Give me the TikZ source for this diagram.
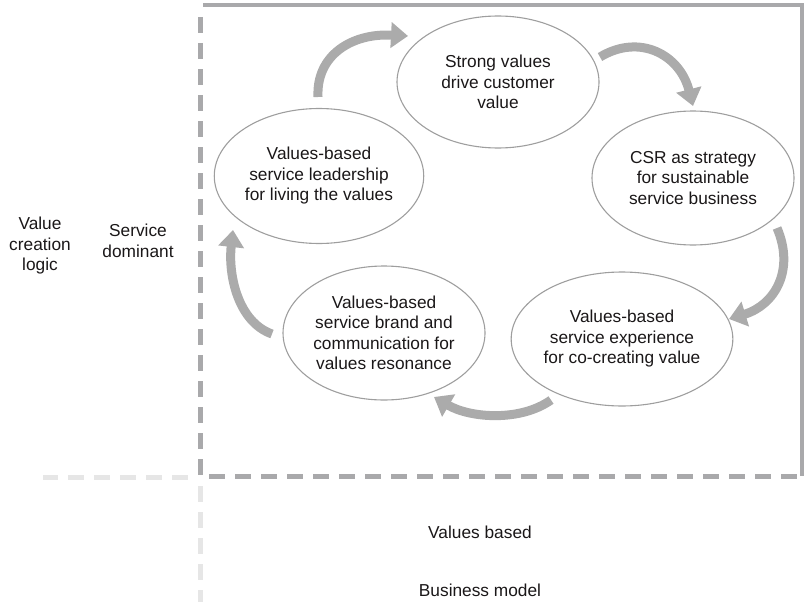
\documentclass[tikz,border=0pt]{standalone}
\usepackage{fontspec}
\setmainfont{Liberation Sans}
\usetikzlibrary{arrows.meta,shapes.geometric}
\definecolor{boxgray}{HTML}{A9A9AB}
\definecolor{lightgray}{HTML}{E6E6E6}
\definecolor{ellgray}{HTML}{9E9E9E}
\definecolor{arrgray}{HTML}{ABABAB}
\definecolor{txt}{HTML}{1A1718}
\begin{document}
\begin{tikzpicture}[x=1pt,y=-1pt,
  every node/.style={text=txt,font=\fontsize{17.3}{20.5}\selectfont,align=center},
  bubble/.style={ellipse,draw=ellgray,line width=1.1pt,inner sep=0pt,minimum width=#1},
  bubble/.default=202pt,
  solidedge/.style={draw=boxgray,line width=4.5pt},
  darkdash/.style={draw=boxgray,line width=5pt,dash pattern=on 16pt off 10pt},
  lightdash/.style={draw=lightgray,line width=5pt,dash pattern=on 16pt off 10pt},
  bigarrow/.style={draw=arrgray,line width=9pt,-{Triangle[width=25pt,length=17pt]}}
]
\useasboundingbox (0,0) rectangle (805,602);
% frame
\draw[solidedge] (203,5) -- (802,5) -- (802,476);
\draw[darkdash] (200,17) -- (200,476) -- (800,476);
\draw[lightdash] (188,477) -- (43,477);
\draw[lightdash] (200,486) -- (200,602);
% bubbles
\node[bubble,minimum height=132pt] (e1) at (498,82) {Strong values\\drive customer\\value};
\node[bubble,minimum height=134pt] (e2) at (693,178) {CSR as strategy\\for sustainable\\service business};
\node[bubble=204pt,minimum height=134pt] (e3) at (622,339) {Values-based\\service experience\\for co-creating value};
\node[bubble,minimum height=134pt] (e4) at (384,333) {Values-based\\service brand and\\communication for\\values resonance};
\node[bubble,minimum height=135pt] (e5) at (319,176) {Values-based\\service leadership\\for living the values};
% labels
\node (vcl) at (40,246) {Value\\creation\\logic};
\node (sd) at (138,241) {Service\\dominant};
\node (vb) at (480,532) {Values based};
\node (bm) at (480,590) {Business model};
% arrow ends
\coordinate (a1s) at (318,97);  \coordinate (a1e) at (408,36);
\coordinate (a2s) at (600,57);  \coordinate (a2e) at (693,106);
\coordinate (a3s) at (777,228); \coordinate (a3e) at (729,319);
\coordinate (a4s) at (551,400); \coordinate (a4e) at (434,397);
\coordinate (a5s) at (272,334); \coordinate (a5e) at (233,230);
\draw[bigarrow] (a1s) .. controls (316,55) and (352,33) .. (a1e);
\draw[bigarrow] (a2s) .. controls (640,33) and (680,55) .. (a2e);
\draw[bigarrow] (a3s) .. controls (795,270) and (775,305) .. (a3e);
\draw[bigarrow] (a4s) .. controls (520,422) and (470,418) .. (a4e);
\draw[bigarrow] (a5s) .. controls (238,322) and (228,275) .. (a5e);
\end{tikzpicture}
\end{document}
